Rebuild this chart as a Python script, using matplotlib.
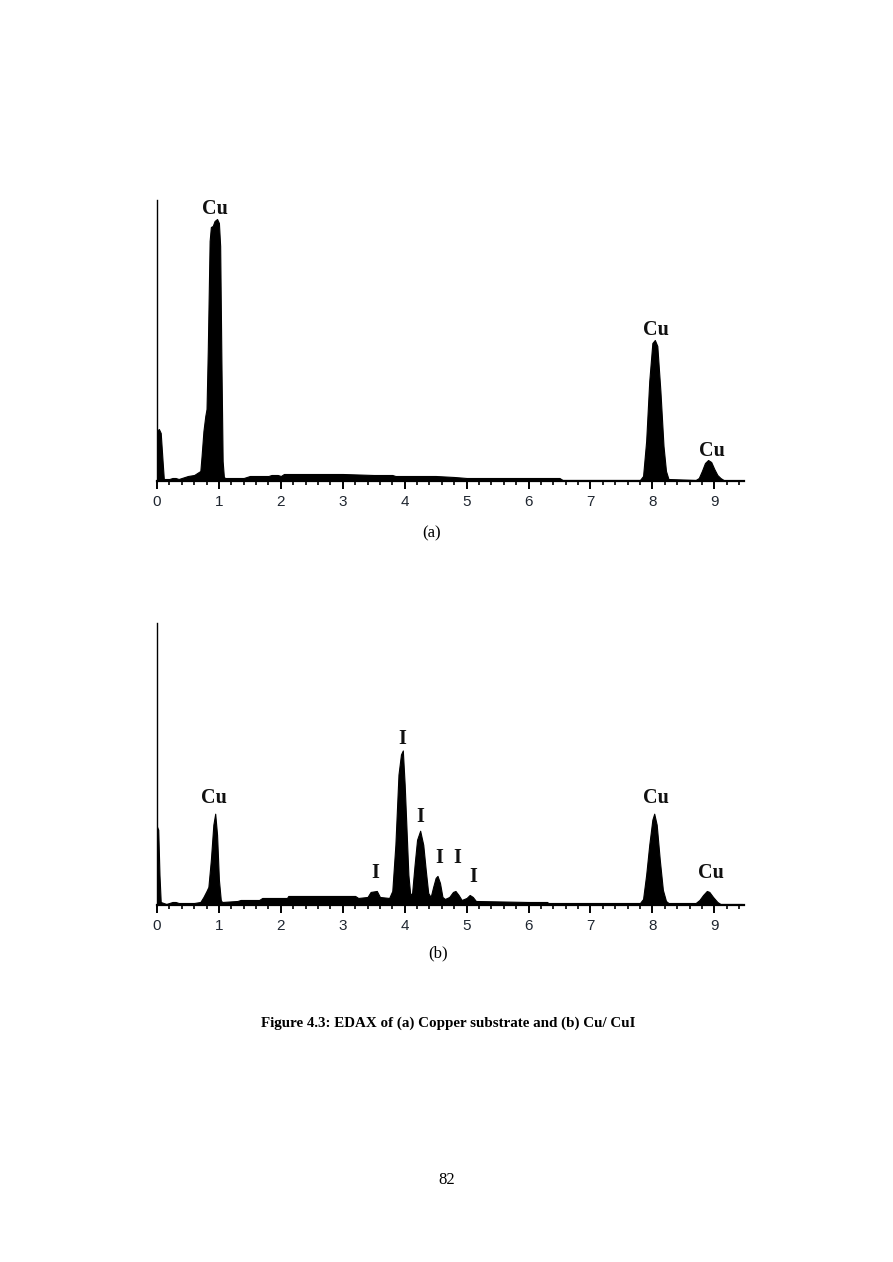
import numpy as np
import matplotlib
matplotlib.use('Agg')
from matplotlib import pyplot as plt
from matplotlib.ticker import MultipleLocator

#Spectrum outline of panel (a), energy in keV and intensity (arbitrary units)
energy_a = [0.00, 0.03, 0.06, 0.09, 0.11, 0.20, 0.25, 0.30, 0.35, 0.40, 0.50, 0.60, 0.65,
            0.70, 0.72, 0.75, 0.78, 0.80, 0.82, 0.85, 0.87, 0.90, 0.93, 0.97, 1.00, 1.02,
            1.04, 1.06, 1.08, 1.10, 1.20, 1.40, 1.50, 1.80, 1.85, 1.95, 2.00, 2.05, 3.00,
            3.50, 3.80, 3.85, 4.50, 4.80, 5.00, 6.50, 6.55, 7.80, 7.85, 7.90, 7.95, 8.00,
            8.04, 8.08, 8.13, 8.18, 8.22, 8.26, 8.70, 8.75, 8.80, 8.85, 8.90, 8.95, 9.00,
            9.05, 9.10, 9.15, 9.20]
counts_a = [50, 52, 48, 20, 2, 2, 3, 3, 2, 3, 5, 6, 8,
            10, 25, 50, 65, 72, 130, 240, 254, 255, 260, 262, 258, 235,
            120, 20, 4, 3, 3, 3, 5, 5, 6, 6, 5, 7, 7,
            6, 6, 5, 5, 4, 3, 3, 1, 1, 5, 40, 100, 138,
            141, 135, 90, 35, 10, 2, 1, 3, 10, 18, 21, 19, 12,
            6, 3, 1, 0]

#Spectrum outline of panel (b)
energy_b = [0.00, 0.02, 0.04, 0.06, 0.15, 0.20, 0.25, 0.30, 0.35, 0.60, 0.70, 0.75, 0.80,
            0.83, 0.87, 0.91, 0.94, 0.97, 1.00, 1.03, 1.05, 1.30, 1.35, 1.65, 1.70, 2.10,
            2.12, 3.20, 3.25, 3.40, 3.45, 3.55, 3.60, 3.75, 3.80, 3.85, 3.90, 3.94, 3.97,
            4.00, 4.03, 4.06, 4.09, 4.12, 4.16, 4.20, 4.25, 4.30, 4.34, 4.38, 4.42, 4.46,
            4.50, 4.53, 4.57, 4.61, 4.65, 4.72, 4.78, 4.82, 4.87, 4.92, 5.00, 5.05, 5.10,
            5.15, 6.00, 6.30, 6.32, 7.80, 7.85, 7.90, 7.95, 8.00, 8.03, 8.07, 8.12, 8.17,
            8.22, 8.26, 8.70, 8.76, 8.82, 8.88, 8.92, 8.98, 9.05, 9.10, 9.30, 9.45]
counts_b = [78, 75, 30, 3, 1, 2, 3, 3, 2, 2, 3, 8, 14,
            18, 45, 80, 91, 70, 25, 5, 3, 4, 5, 5, 7, 7,
            9, 9, 7, 8, 13, 14, 8, 7, 14, 60, 130, 150, 154,
            120, 75, 30, 10, 12, 40, 65, 74, 60, 35, 12, 8, 18,
            27, 29, 22, 8, 6, 8, 13, 14, 10, 5, 7, 10, 8,
            4, 3, 3, 2, 2, 6, 30, 60, 85, 91, 80, 45, 15,
            4, 2, 2, 5, 10, 14, 13, 8, 3, 1, 1, 1]

#Peak labels (text, energy, height of label centre)
labels_a = ['Cu', 'Cu', 'Cu']
label_x_a = [0.94, 8.05, 8.97]
label_y_a = [272, 151, 30]

labels_b = ['Cu', 'I', 'I', 'I', 'I', 'I', 'I', 'Cu', 'Cu']
label_x_b = [0.92, 3.52, 3.96, 4.25, 4.56, 4.85, 5.10, 8.06, 8.95]
label_y_b = [107, 32, 165, 88, 47, 47, 28, 107, 32]

xticks = [0, 1, 2, 3, 4, 5, 6, 7, 8, 9]

serif = ['Liberation Serif', 'DejaVu Serif']
sans = ['Liberation Sans', 'DejaVu Sans']


def draw_spectrum(ax, energy, counts, labels, lx, ly):
    ax.fill_between(energy, counts, 0, color='black', linewidth=0.8)
    ax.set_xlim(0, 9.48)
    ax.set_ylim(0, 281)

    #Only the left line and the energy axis are visible
    ax.spines['top'].set_visible(False)
    ax.spines['right'].set_visible(False)
    ax.spines['left'].set_linewidth(1.0)
    ax.spines['bottom'].set_linewidth(1.6)
    ax.set_yticks([])

    ax.set_xticks(xticks)
    ax.set_xticklabels([str(t) for t in xticks], family=sans, fontsize=11, color='#1f2630')
    ax.xaxis.set_minor_locator(MultipleLocator(0.2))
    ax.tick_params(axis='x', which='major', direction='out', length=5.5, width=1.4, pad=4.5)
    ax.tick_params(axis='x', which='minor', direction='out', length=3, width=1.2)

    for txt, x, y in zip(labels, lx, ly):
        ax.text(x, y, txt, ha='center', va='center', family=serif, fontweight='bold',
                fontsize=14.5, color='#111111')


fig = plt.figure(figsize=(8.93, 12.62), dpi=100)
fig.patch.set_facecolor('white')

ax_a = fig.add_axes([157/893, 1 - 481/1262, 587/893, 281/1262])
draw_spectrum(ax_a, energy_a, counts_a, labels_a, label_x_a, label_y_a)

ax_b = fig.add_axes([157/893, 1 - 905/1262, 587/893, 282/1262])
draw_spectrum(ax_b, energy_b, counts_b, labels_b, label_x_b, label_y_b)

#Panel letters, caption and page number
fig.text(432/893, 1 - 533/1262, '(a)', ha='center', va='center', family=serif, fontsize=12)
fig.text(438/893, 1 - 953/1262, '(b)', ha='center', va='center', family=serif, fontsize=12)
fig.text(448/893, 1 - 1023/1262, 'Figure 4.3: EDAX of (a) Copper substrate and (b) Cu/ CuI',
         ha='center', va='center', family=serif, fontweight='bold', fontsize=10.8)
fig.text(447/893, 1 - 1180/1262, '82', ha='center', va='center', family=serif, fontsize=12)

fig.savefig('out.png', dpi=100, facecolor='white')
